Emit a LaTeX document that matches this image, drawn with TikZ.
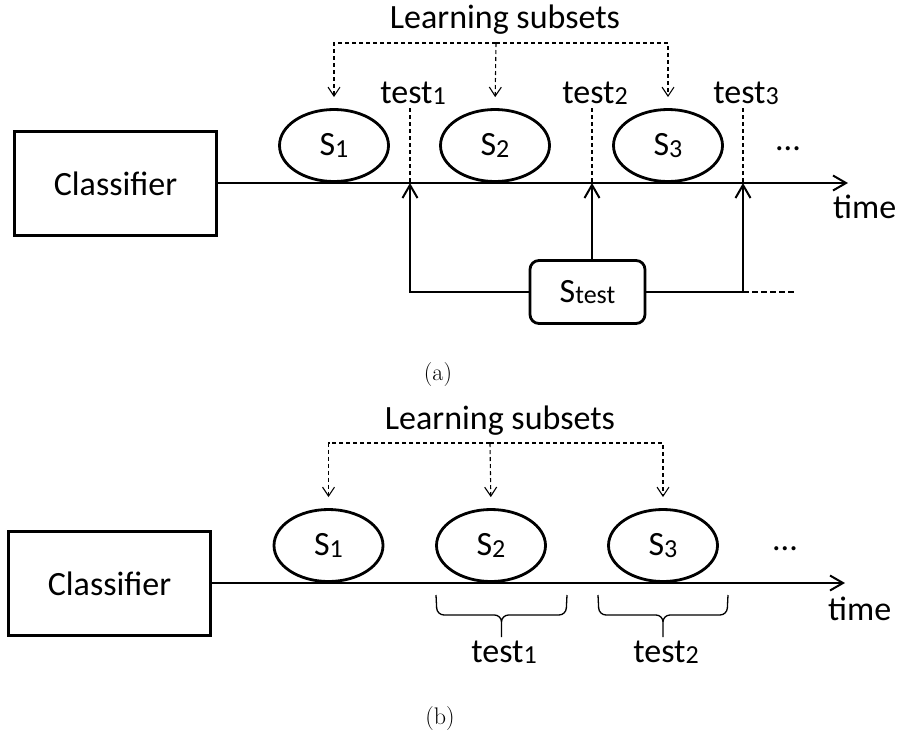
\documentclass[tikz,border=0pt]{standalone}
\usepackage{fontspec}
\newfontfamily\calfont{Carlito}
\usetikzlibrary{positioning,arrows.meta,shapes.geometric,calc}
\newcommand\lowidx[1]{\raisebox{-1.5pt}{\fontsize{26}{26}\selectfont #1}}

\begin{document}
\begin{tikzpicture}[
    x=1pt, y=-1pt,
    font=\calfont\fontsize{34}{38}\selectfont,
    classbox/.style={draw, line width=3.2pt, minimum width=202pt, minimum height=104pt, inner sep=0pt},
    subset/.style={draw, ellipse, line width=2.8pt, minimum width=109pt, minimum height=72pt, inner sep=0pt},
    testbox/.style={draw, rounded corners=9pt, line width=2.8pt, minimum width=115pt, minimum height=63pt, inner sep=0pt},
    word/.style={inner sep=0pt, anchor=base},
    caption/.style={inner sep=0pt, anchor=base, font=\rmfamily\fontsize{24}{26}\selectfont},
    feed/.style={line width=1.1pt, dash pattern=on 4pt off 3pt, -{Straight Barb[length=9pt,width=12pt]}},
    timeline/.style={line width=2pt, -{Straight Barb[length=13pt,width=15pt]}},
    probe/.style={line width=2pt, -{Straight Barb[length=13pt,width=15pt]}},
    testline/.style={line width=1.1pt, dash pattern=on 4pt off 3pt},
    more/.style={line width=2pt, dash pattern=on 6pt off 3pt},
    testbrace/.style={line width=1.3pt, rounded corners=7pt,
        to path={-- ++(1,20) -- ($(\tikztostart)!0.5!(\tikztotarget)+(0,20)$) -- ++(0,22)
                 (\tikztotarget) -- ++(-1,20) -- ($(\tikztostart)!0.5!(\tikztotarget)+(0,20)$) -- ++(0,22)}}
]
\useasboundingbox (0,0) rectangle (898,740);

% (a) one shared test set
\node[word] (learnA) at (505,28) {Learning subsets};
\node[classbox] (clsA) at (115.5,183.5) {Classifier};
\node[subset] (s1a) at (334,145.5) {S\lowidx{1}};
\node[subset] (s2a) at (495,145.5) {S\lowidx{2}};
\node[subset] (s3a) at (668,145.5) {S\lowidx{3}};
\node[word] (dotsA) at (788,150) {...};
\node[word, anchor=base west] (timeA) at (833,218) {time};
\node[word] (lbl1a) at (413,103) {test\lowidx{1}};
\node[word] (lbl2a) at (595,103) {test\lowidx{2}};
\node[word] (lbl3a) at (746,103) {test\lowidx{3}};
\node[testbox] (stest) at (587.5,292) {S\lowidx{test}};
\node[caption] (capA) at (438,380) {(a)};

\coordinate (busA) at (496,43);
\coordinate (endA) at (848,183);
\coordinate (t1a) at (410,183);
\coordinate (t2a) at (592,183);
\coordinate (t3a) at (743,183);
\coordinate (moreA) at (796,292);

\draw[feed, shorten >=11pt] (busA) -| (s1a.north);
\draw[feed, shorten >=11pt] (busA) -- (s2a.north);
\draw[feed, shorten >=11pt] (busA) -| (s3a.north);
\draw[timeline] (clsA.east |- endA) -- (endA);
\draw[testline] (t1a |- s1a.north) -- (t1a);
\draw[testline] (t2a |- s1a.north) -- (t2a);
\draw[testline] (t3a |- s1a.north) -- (t3a);
\draw[probe] (stest.west) -| (t1a);
\draw[probe] (t2a |- stest.north) -- (t2a);
\draw[probe] (stest.east) -| (t3a);
\draw[more] (t3a |- stest.east) -- (moreA);

% (b) test on the next subsets
\node[word] (learnB) at (500,429) {Learning subsets};
\node[classbox] (clsB) at (109.5,583.5) {Classifier};
\node[subset] (s1b) at (328.5,545.5) {S\lowidx{1}};
\node[subset] (s2b) at (491,545.5) {S\lowidx{2}};
\node[subset] (s3b) at (663,545.5) {S\lowidx{3}};
\node[word] (dotsB) at (785,550) {...};
\node[word, anchor=base west] (timeB) at (828,620) {time};
\node[word] (lbl1b) at (504,662) {test\lowidx{1}};
\node[word] (lbl2b) at (666,662) {test\lowidx{2}};
\node[caption] (capB) at (440,724) {(b)};

\coordinate (busB) at (490,443);
\coordinate (endB) at (845,583);
\coordinate (b1l) at (436,595);
\coordinate (b1r) at (567,595);
\coordinate (b2l) at (598,595);
\coordinate (b2r) at (728,595);

\draw[feed, shorten >=11pt] (busB) -| (s1b.north);
\draw[feed, shorten >=11pt] (busB) -- (s2b.north);
\draw[feed, shorten >=11pt] (busB) -| (s3b.north);
\draw[timeline] (clsB.east |- endB) -- (endB);
\draw[testbrace] (b1l) to (b1r);
\draw[testbrace] (b2l) to (b2r);

\end{tikzpicture}
\end{document}
